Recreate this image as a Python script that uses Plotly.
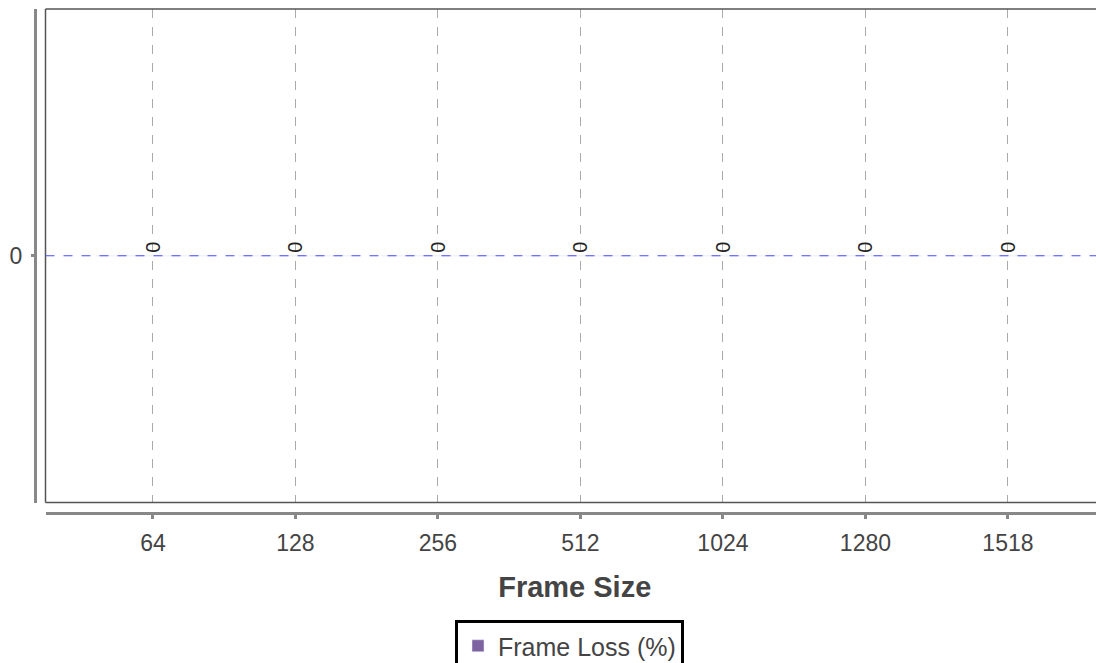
import plotly.graph_objects as go

categories = ["64", "128", "256", "512", "1024", "1280", "1518"]
frame_loss = [0, 0, 0, 0, 0, 0, 0]
labels = ["0", "0", "0", "0", "0", "0", "0"]

# the page adds an 8px body margin, so the figure is 8px smaller
W, H = 1096, 655
FONT = "Liberation Sans, Arial, sans-serif"

fig = go.Figure()
fig.add_trace(go.Bar(
    x=categories, y=frame_loss, name="Frame Loss (%)",
    marker_color="#7F63A1",
    text=labels, textposition="outside", textangle=-90,
    textfont=dict(size=20, color="#222222", family=FONT),
    cliponaxis=False,
))

l, r, t, b = 27, 0, 1, 150
pw = W - l - r
ph = H - t - b
x_dom0 = (37.5 - l) / pw
y_dom0 = ((H - b) - 494.5) / ph

fig.update_layout(
    width=W, height=H,
    margin=dict(l=l, r=r, t=t, b=b, pad=0, autoexpand=False),
    paper_bgcolor="white", plot_bgcolor="white",
    font=dict(family=FONT, size=23, color="#444444"),
    showlegend=True,
    legend=dict(
        orientation="h", x=0.5, xanchor="center",
        y=(H - b - 612) / ph, yanchor="top",
        bordercolor="black", borderwidth=3,
        font=dict(size=25, color="#444444", family=FONT),
    ),
    xaxis=dict(
        type="category", domain=[x_dom0, 1], anchor="free", position=0,
        range=[-0.754, 6.674],
        showline=True, linecolor="#888888", linewidth=3,
        ticks="outside", ticklen=4, tickwidth=3, tickcolor="#888888",
        ticklabelstandoff=4,
        showgrid=True, gridcolor="#AAAAAA", griddash="dash", gridwidth=1,
        tickfont=dict(size=23, color="#444444"),
        title=dict(text="<b>Frame Size</b>", font=dict(size=29, color="#444444"), standoff=22),
        zeroline=False,
    ),
    yaxis=dict(
        domain=[y_dom0, 1], anchor="free", position=0,
        range=[-1, 1],
        tickvals=[0], ticktext=["0"],
        showline=True, linecolor="#888888", linewidth=3,
        ticks="outside", ticklen=3, tickwidth=3, tickcolor="#888888",
        ticklabelstandoff=4,
        showgrid=False, zeroline=False,
        tickfont=dict(size=23, color="#444444"),
    ),
    shapes=[
        dict(type="line", xref="x domain", yref="y domain", x0=0, x1=1.02, y0=1, y1=1,
             line=dict(color="#555555", width=1.5)),
        dict(type="line", xref="x domain", yref="y domain", x0=0, x1=1.02, y0=0, y1=0,
             line=dict(color="#555555", width=1.5)),
        dict(type="line", xref="x domain", yref="y domain", x0=0, x1=0, y0=0, y1=1,
             line=dict(color="#555555", width=1.5)),
        dict(type="line", xref="x domain", yref="y", x0=0, x1=1, y0=0, y1=0,
             line=dict(color="#4A4AFF", width=1.2, dash="dash")),
    ],
)

fig.write_html("out.html")
